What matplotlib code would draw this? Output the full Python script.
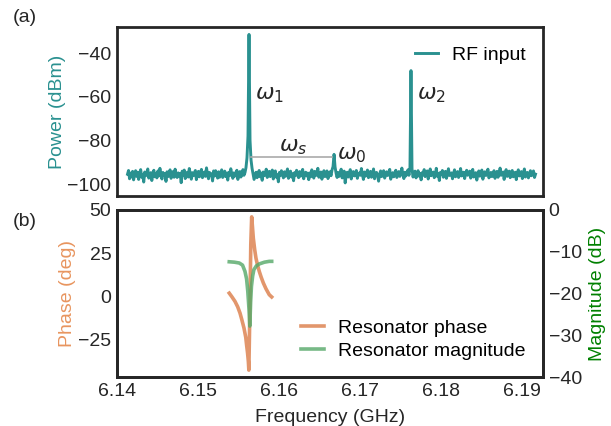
import numpy as np
import matplotlib
matplotlib.use("Agg")
import matplotlib.pyplot as plt
from matplotlib.ticker import MultipleLocator

plt.rcParams['font.family'] = ['Liberation Sans', 'DejaVu Sans']
plt.rcParams['font.size'] = 14

# ---- data: spectrum (panel a) ----
spec_start = 6.1413    # GHz, first sample
spec_step = 0.000125   # GHz between samples
power_dbm = [
    -95.5, -93.8, -97.6, -95.0, -96.8, -94.2, -98.1, -95.7, -93.9, -96.5,
    -94.6, -97.9, -95.2, -93.4, -96.9, -95.8, -99.1, -94.5, -96.2, -95.0,
    -93.1, -97.3, -95.6, -94.8, -98.4, -95.1, -93.7, -96.7, -95.4, -97.2,
    -94.0, -96.3, -92.8, -95.9, -97.7, -94.7, -96.1, -95.3, -98.8, -94.4,
    -96.6, -95.0, -93.5, -97.4, -95.7, -94.3, -96.9, -93.2, -95.8, -97.0,
    -94.9, -96.4, -95.2, -99.4, -94.1, -96.0, -93.6, -97.5, -95.5, -94.6,
    -96.8, -92.9, -95.3, -97.8, -94.8, -96.2, -95.0, -93.8, -98.0, -95.6,
    -94.2, -96.7, -95.1, -93.3, -97.1, -95.9, -94.5, -96.5, -92.6, -95.4,
    -97.6, -94.7, -96.0, -95.3, -98.6, -94.0, -96.3, -93.9, -95.7, -97.3,
    -94.4, -96.9, -95.2, -93.5, -97.0, -95.8, -94.1, -96.6, -95.0, -98.2,
    -94.6, -96.1, -93.0, -95.5, -97.4, -94.9, -96.4, -95.1, -93.7, -97.9,
    -95.3, -94.3, -96.8, -95.6, -93.4, -96.0, -94.8, -92.5, -88.0, -78.0,
    -31.4, -80.0, -89.0, -92.8, -95.5, -97.9, -96.2, -94.6, -97.1, -95.4,
    -93.8, -96.7, -95.0, -98.3, -94.5, -96.2, -95.7, -93.2, -97.0, -95.1,
    -94.2, -96.6, -95.4, -93.6, -97.7, -95.2, -94.0, -96.9, -95.8, -99.0,
    -94.7, -96.1, -93.9, -95.6, -97.2, -94.4, -96.5, -95.0, -93.1, -97.4,
    -95.5, -94.1, -96.8, -95.3, -98.5, -94.8, -96.0, -93.7, -95.9, -97.1,
    -94.3, -96.4, -95.1, -93.3, -97.6, -95.7, -94.6, -96.3, -95.0, -98.0,
    -94.9, -96.7, -93.5, -95.4, -97.3, -94.2, -96.1, -95.6, -92.8, -96.9,
    -95.2, -94.5, -97.8, -95.0, -93.9, -96.6, -95.3, -94.0, -97.5, -95.8,
    -94.4, -96.2, -93.6, -92.0, -86.4, -92.2, -95.0, -97.0, -94.7, -96.5,
    -95.1, -93.2, -97.2, -95.5, -94.1, -99.5, -95.9, -94.6, -96.8, -95.2,
    -93.4, -97.7, -95.0, -94.3, -96.3, -95.7, -93.8, -97.4, -95.4, -94.9,
    -96.0, -92.9, -95.6, -97.9, -94.5, -96.4, -95.1, -93.6, -97.1, -95.3,
    -94.2, -96.9, -95.8, -93.1, -97.6, -95.0, -94.7, -96.2, -98.7, -95.5,
    -94.0, -96.6, -95.2, -93.9, -97.3, -95.7, -94.4, -96.1, -95.0, -93.3,
    -97.8, -95.4, -94.8, -96.7, -95.1, -93.7, -97.0, -95.9, -94.3, -96.5,
    -95.2, -92.7, -95.8, -97.5, -94.6, -96.3, -95.0, -93.5, -96.0, -92.5,
    -48.0, -93.0, -96.8, -95.3, -94.1, -97.2, -95.6, -93.9, -96.4, -95.1,
    -98.1, -94.8, -95.9, -93.4, -96.6, -95.2, -94.0, -97.7, -95.4, -93.1,
    -96.2, -95.0, -94.5, -97.1, -95.8, -92.8, -96.5, -95.3, -98.4, -94.7,
    -95.6, -93.8, -96.9, -95.1, -94.2, -97.4, -95.5, -93.0, -96.1, -95.7,
    -94.9, -97.6, -95.2, -93.5, -96.7, -95.0, -94.3, -97.0, -95.9, -92.9,
    -96.3, -95.4, -94.6, -97.5, -95.1, -93.7, -96.0, -95.6, -94.1, -97.3,
    -95.0, -93.3, -96.8, -95.3, -94.8, -98.2, -95.7, -94.0, -96.4, -95.2,
    -93.6, -97.8, -95.5, -94.4, -96.1, -95.0, -93.2, -97.2, -95.8, -94.7,
    -96.6, -95.1, -93.9, -97.4, -95.4, -94.2, -96.9, -95.6, -92.7, -96.0,
    -95.3, -94.5, -97.9, -95.0, -93.4, -96.5, -95.7, -94.1, -97.1, -95.2,
    -93.8, -96.7, -95.5, -94.6, -98.0, -95.1, -93.5, -96.3, -95.9, -94.3,
    -97.5, -95.4, -93.1, -96.8, -95.0, -94.7, -97.2, -95.6, -93.9, -96.2,
    -95.3, -94.0, -97.0, -95.5,
]
spec_freq = spec_start + spec_step * np.arange(len(power_dbm))

# annotation positions (GHz, dBm)
omega1 = (6.1570, -59.0)
omega2 = (6.1770, -59.0)
omega0 = (6.1672, -86.4)
omegas = (6.1618, -82.7)
ws_line_f = [6.1565, 6.1666]
ws_line_p = -87.6

# ---- data: resonator (panel b) ----
phase_freq = [6.15386, 6.1542, 6.15457, 6.1549, 6.15519, 6.1554, 6.15568, 6.1559,
              6.1560, 6.15612, 6.15622, 6.15628, 6.1564, 6.15652, 6.15663, 6.15673,
              6.15683, 6.1570, 6.15716, 6.15735, 6.15757, 6.1578, 6.15807, 6.1584,
              6.1588, 6.1591]
phase_deg = [1.7, -0.5, -3.1, -6.2, -9.9, -13.5, -18.6, -24.0,
             -28.3, -33.0, -38.0, -43.0, -10.0, 30.0, 46.0, 40.0,
             33.7, 27.0, 22.0, 18.0, 14.3, 11.0, 7.6, 4.2,
             0.8, -0.5]
mag_freq = [6.15386, 6.1545, 6.1551, 6.1555, 6.15580, 6.1560, 6.15615, 6.15630,
            6.15640, 6.15650, 6.1566, 6.15675, 6.1569, 6.1572, 6.1576, 6.1582,
            6.1588, 6.1591]
mag_db = [-12.4, -12.5, -12.7, -13.2, -14.7, -16.5, -19.5, -23.8,
          -27.8, -22.0, -18.3, -15.8, -14.3, -13.4, -12.9, -12.5,
          -12.3, -12.3]

x_ticks = [6.14, 6.15, 6.16, 6.17, 6.18, 6.19]
x_tick_labels = ['6.14', '6.15', '6.16', '6.17', '6.18', '6.19']

teal = '#2a9190'
orange = '#dd8452'
green = '#55a868'
spine_c = '#262626'
text_c = '#262626'

W, H = 611, 426
fig = plt.figure(figsize=(W / 100, H / 100), dpi=100)
ax1 = fig.add_axes([117 / W, 1 - 196 / H, 426 / W, 169 / H])
ax2 = fig.add_axes([117 / W, 1 - 377 / H, 426 / W, 167 / H])
ax3 = ax2.twinx()

for ax in (ax1, ax2, ax3):
    for s in ax.spines.values():
        s.set_color(spine_c)
        s.set_linewidth(2.0)
    ax.tick_params(length=0, labelsize=14, colors=text_c, pad=4)

# panel a
ax1.plot(spec_freq, power_dbm, color=teal, lw=2.1, label='RF input')
ax1.plot(ws_line_f, [ws_line_p, ws_line_p], color='#aaaaaa', lw=1.2)
ax1.text(*omega1, r'$\omega_1$', fontsize=16, va='center', ha='left', color=text_c)
ax1.text(*omega2, r'$\omega_2$', fontsize=16, va='center', ha='left', color=text_c)
ax1.text(*omega0, r'$\omega_0$', fontsize=16, va='center', ha='left', color=text_c)
ax1.text(*omegas, r'$\omega_s$', fontsize=16, va='center', ha='center', color=text_c)
ax1.set_xlim(6.14, 6.1926)
ax1.set_ylim(-105.5, -28)
ax1.set_xticks([])
ax1.set_yticks([-40, -60, -80, -100])
ax1.set_ylabel('Power (dBm)', color=teal, fontsize=14, labelpad=1)
ax1.legend(loc='upper right', frameon=False, fontsize=14, handlelength=1.2,
           handletextpad=0.7, bbox_to_anchor=(1.0, 0.99))

# panel b
l1, = ax2.plot(phase_freq, phase_deg, color=orange, lw=2.6, alpha=0.85,
               label='Resonator phase')
l2, = ax3.plot(mag_freq, mag_db, color=green, lw=2.6, alpha=0.8,
               label='Resonator magnitude')
ax2.set_xlim(6.14, 6.1926)
ax2.set_ylim(-47, 50)
ax2.yaxis.set_major_locator(MultipleLocator(25))
ax3.set_ylim(-40, 0)
ax3.set_yticks([0, -10, -20, -30, -40])
ax2.set_xticks(x_ticks)
ax2.set_xticklabels(x_tick_labels)
ax2.set_xlabel('Frequency (GHz)', fontsize=14, color=text_c, labelpad=7)
ax2.set_ylabel('Phase (deg)', color='#e8955f', fontsize=14, labelpad=2)
ax3.set_ylabel('Magnitude (dB)', color='green', fontsize=14, labelpad=5)
ax3.legend([l1, l2], ['Resonator phase', 'Resonator magnitude'], loc='lower right',
           frameon=False, fontsize=14, handlelength=1.2, handletextpad=0.7,
           labelspacing=0.25, bbox_to_anchor=(1.0, 0.0))

fig.text(13 / W, 1 - 18 / H, '(a)', fontsize=14, va='center', ha='left', color=text_c)
fig.text(13 / W, 1 - 222 / H, '(b)', fontsize=14, va='center', ha='left', color=text_c)

fig.savefig('out.png', dpi=100)
